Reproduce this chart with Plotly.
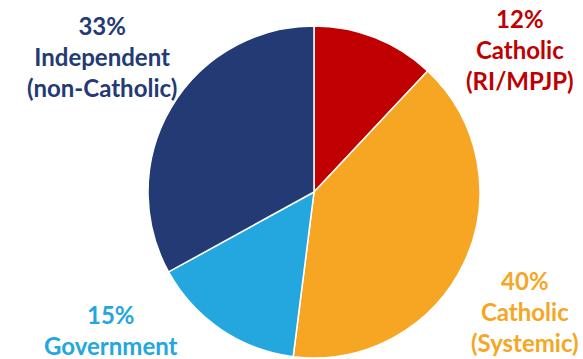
import plotly.graph_objects as go

labels = ["Catholic<br>(RI/MPJP)", "Catholic<br>(Systemic)", "Government", "Independent<br>(non-Catholic)"]
values = [12, 40, 15, 33]
colors = ["#C00000", "#F6A623", "#24A6DE", "#233A74"]

fig = go.Figure(go.Pie(
    labels=labels,
    values=values,
    sort=False,
    direction="clockwise",
    rotation=0,
    marker=dict(colors=colors, line=dict(color="white", width=1.5)),
    textinfo="none",
    hoverinfo="label+percent",
    showlegend=False,
    domain=dict(x=[0.2539, 0.8233], y=[0.0028, 0.9276]),
))

# label anchor positions (paper fraction) per slice
label_x = [0.892, 0.900, 0.190, 0.175]
label_y = [0.861, 0.131, 0.080, 0.844]

for lab, val, col, x, y in zip(labels, values, colors, label_x, label_y):
    fig.add_annotation(
        x=x, y=y, xref="paper", yref="paper",
        text=f"{val}%<br>{lab}",
        showarrow=False,
        font=dict(family="Lato", size=24, color=col, weight="bold"),
        align="center",
        xanchor="center", yanchor="middle",
    )

fig.update_layout(
    width=583, height=359,
    margin=dict(l=0, r=0, t=0, b=0),
    paper_bgcolor="white",
    plot_bgcolor="white",
)

fig.write_html("out.html")
